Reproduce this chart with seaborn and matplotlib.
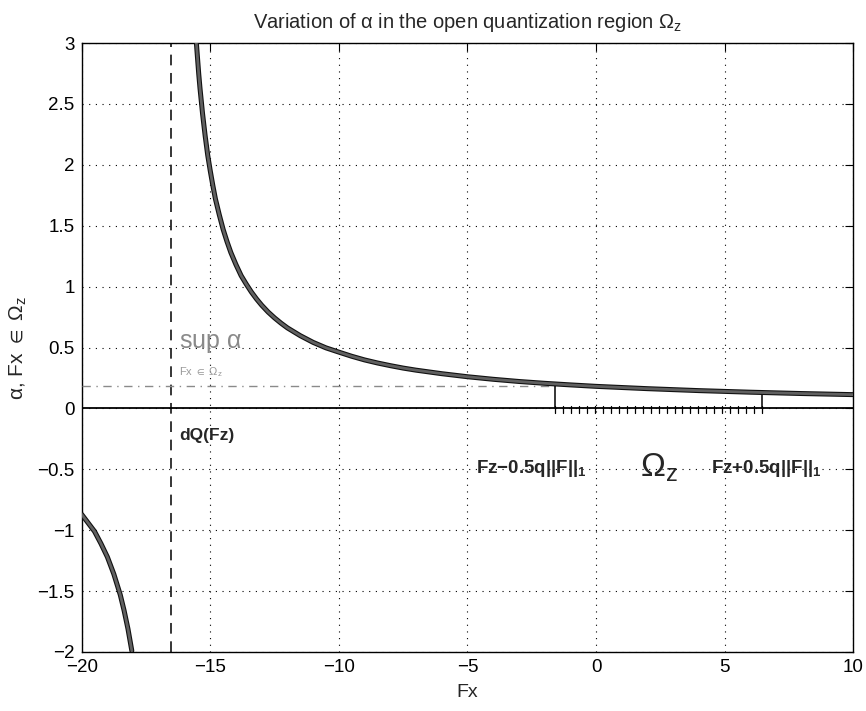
import numpy as np
import pandas as pd
import matplotlib
matplotlib.use("Agg")
import matplotlib.pyplot as plt
import seaborn as sns

# ---- data ----
fx_right = [-15.54, -15.45, -15.4, -15.3, -15.2, -15.1, -15.0, -14.9, -14.8, -14.65,
            -14.5, -14.35, -14.2, -14.0, -13.8, -13.6, -13.4, -13.2, -13.0, -12.75,
            -12.5, -12.25, -12.0, -11.5, -11.0, -10.5, -10.0, -9.5, -9.0, -8.5,
            -8.0, -7.5, -7.0, -6.0, -5.0, -4.0, -3.0, -2.0, -1.0, 0.0, 2.0, 4.0,
            6.0, 8.0, 10.0]
alpha_right = [3.00, 2.75, 2.63, 2.42, 2.24, 2.08, 1.95, 1.83, 1.72, 1.59,
               1.47, 1.37, 1.28, 1.18, 1.09, 1.02, 0.955, 0.898, 0.847, 0.791,
               0.743, 0.700, 0.661, 0.597, 0.542, 0.497, 0.462, 0.428, 0.398, 0.373,
               0.351, 0.331, 0.314, 0.285, 0.260, 0.239, 0.221, 0.206, 0.193, 0.181,
               0.162, 0.146, 0.133, 0.122, 0.113]
fx_left = [-20.0, -19.75, -19.5, -19.25, -19.0, -18.75, -18.5, -18.35, -18.2, -18.05]
alpha_left = [-0.87, -0.94, -1.01, -1.11, -1.22, -1.36, -1.53, -1.66, -1.81, -1.99]

dq_fz = -16.54          # dQ(Fz)
omega_lo = -1.6         # Fz - 0.5q||F||_1
omega_hi = 6.46         # Fz + 0.5q||F||_1
omega_lo_alpha = 0.186
omega_hi_alpha = 0.133
sup_alpha = 0.186

xticks = [-20, -15, -10, -5, 0, 5, 10]
yticks = [-2, -1.5, -1, -0.5, 0, 0.5, 1, 1.5, 2, 2.5, 3]

# ---- style ----
sns.set_theme(style="white")
plt.rcParams["font.family"] = ["Liberation Sans", "DejaVu Sans"]
plt.rcParams["mathtext.fontset"] = "custom"
plt.rcParams["mathtext.rm"] = "Liberation Sans"
plt.rcParams["mathtext.it"] = "Liberation Sans"
plt.rcParams["mathtext.bf"] = "Liberation Sans:bold"
plt.rcParams["mathtext.default"] = "regular"

fig = plt.figure(figsize=(8.66, 7.11), dpi=100)
ax = fig.add_axes([0.0943, 0.083, 0.891, 0.8565])

df_r = pd.DataFrame({"Fx": fx_right, "alpha": alpha_right})
df_l = pd.DataFrame({"Fx": fx_left, "alpha": alpha_left})
for d in (df_r, df_l):
    sns.lineplot(data=d, x="Fx", y="alpha", ax=ax, sort=False, color="#111111",
                 lw=3.6, zorder=4)
    sns.lineplot(data=d, x="Fx", y="alpha", ax=ax, sort=False, color="#606060",
                 lw=2.0, zorder=5)

# zero line
ax.axhline(0, color="black", lw=1.3, zorder=3)
# dQ(Fz) dashed vertical
ax.axvline(dq_fz, color="black", lw=1.1, ls=(0, (7, 5)), zorder=3)
# sup alpha dash-dot line
ax.plot([-20, omega_lo], [sup_alpha, sup_alpha], color="#8a8a8a", lw=1.0,
        ls=(0, (6, 4, 1, 4)), zorder=3)
# omega region bounds
ax.plot([omega_lo, omega_lo], [0, omega_lo_alpha], color="black", lw=1.1, zorder=3)
ax.plot([omega_hi, omega_hi], [0, omega_hi_alpha], color="black", lw=1.1, zorder=3)
for xt in np.linspace(omega_lo, omega_hi, 27):
    ax.plot([xt, xt], [-0.035, 0.02], color="black", lw=0.9, zorder=3)

# annotations
ax.text(-16.2, 0.54, r"sup $\alpha$", fontsize=18, color="#8a8a8a", va="center", ha="left")
ax.text(-16.2, 0.295, r"Fx $\in$ $\Omega_z$", fontsize=8, color="#9a9a9a", va="center", ha="left")
ax.text(-16.2, -0.22, "dQ(Fz)", fontsize=12.5, fontweight="bold", va="center", ha="left")
ax.text(-0.35, -0.49, r"$\mathbf{Fz{-}0.5q||F||_1}$", fontsize=13.5,
        va="center", ha="right")
ax.text(1.7, -0.49, r"$\Omega_z$", fontsize=24, va="center", ha="left")
ax.text(4.45, -0.49, r"$\mathbf{Fz{+}0.5q||F||_1}$", fontsize=13.5,
        va="center", ha="left")

ax.set_xlim(-20, 10)
ax.set_ylim(-2, 3)
ax.set_xticks(xticks)
ax.set_yticks(yticks)
ax.set_xticklabels([str(t) if t >= 0 else "\u2212" + str(-t) for t in xticks])
ax.set_yticklabels([("%g" % t).replace("-", "\u2212") for t in yticks])
ax.tick_params(direction="in", length=6, width=0.8, top=True, right=True,
               labelsize=13.5, colors="black", pad=5)
ax.grid(True, color="black", lw=0.8, ls=(0, (1, 5)))
for s in ax.spines.values():
    s.set_color("black")
    s.set_linewidth(1.0)

ax.set_xlabel("Fx", fontsize=14, labelpad=6)
ax.set_ylabel(r"$\alpha$, Fx $\in$ $\Omega_z$", fontsize=15, labelpad=6)
ax.set_title(r"Variation of $\alpha$ in the open quantization region $\Omega_z$",
             fontsize=14.5, pad=11)

fig.savefig("out.png", dpi=100)
